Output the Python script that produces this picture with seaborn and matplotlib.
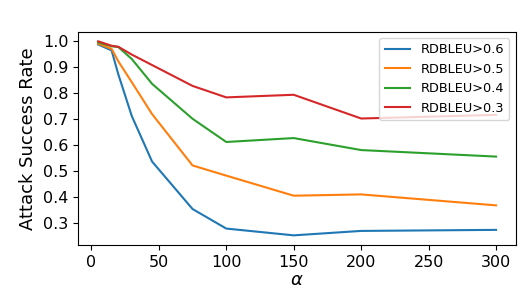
import matplotlib
matplotlib.use("Agg")
import matplotlib.pyplot as plt
import seaborn as sns
import pandas as pd

alpha = [5, 15, 20, 30, 45, 75, 100, 150, 200, 300]
series_names = ["RDBLEU>0.6", "RDBLEU>0.5", "RDBLEU>0.4", "RDBLEU>0.3"]
rd06 = [0.985, 0.962, 0.87, 0.71, 0.536, 0.354, 0.279, 0.253, 0.270, 0.274]
rd05 = [0.988, 0.968, 0.92, 0.84, 0.718, 0.521, 0.482, 0.405, 0.410, 0.368]
rd04 = [0.993, 0.978, 0.975, 0.929, 0.834, 0.700, 0.611, 0.626, 0.580, 0.555]
rd03 = [0.997, 0.980, 0.976, 0.946, 0.906, 0.826, 0.782, 0.792, 0.701, 0.715]
values = [rd06, rd05, rd04, rd03]

rows = []
for name, vals in zip(series_names, values):
    for a, v in zip(alpha, vals):
        rows.append({"alpha": a, "rate": v, "series": name})
df = pd.DataFrame(rows)

fig, ax = plt.subplots(figsize=(5.18, 2.90), dpi=100)
fig.subplots_adjust(left=0.151, right=0.996, top=0.891, bottom=0.155)

palette = ["#1f77b4", "#ff7f0e", "#2ca02c", "#d62728"]
sns.lineplot(data=df, x="alpha", y="rate", hue="series", hue_order=series_names,
             palette=palette, linewidth=1.5, ax=ax)

ax.set_xlabel(r"$\alpha$", fontsize=13, labelpad=1)
ax.set_ylabel("Attack Success Rate", fontsize=13)
ax.set_xticks([0, 50, 100, 150, 200, 250, 300])
ax.set_yticks([0.3, 0.4, 0.5, 0.6, 0.7, 0.8, 0.9, 1.0])
ax.tick_params(labelsize=11.5)
ax.legend(loc="upper right", fontsize=9.3, title=None)

fig.savefig("out.png", dpi=100)
